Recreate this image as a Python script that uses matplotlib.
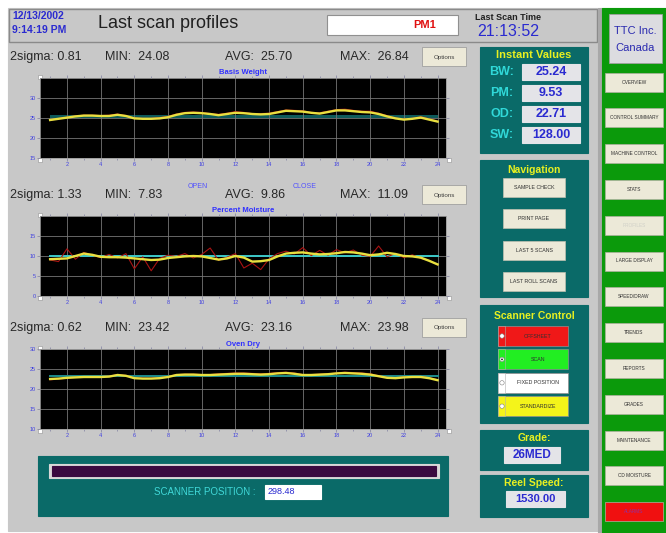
import matplotlib
matplotlib.use('Agg')
import matplotlib.pyplot as plt
from matplotlib.patches import Rectangle, Circle
import numpy as np

plt.rcParams['font.family'] = ['Liberation Sans', 'DejaVu Sans']

W, H = 666, 533

#### data
scan_pos = np.arange(1, 24.5, 0.5)

bw_yellow = [24.5, 24.8, 25.1, 25.4, 25.6, 25.6, 25.5, 25.5, 25.8, 25.5,
             24.9, 24.8, 24.8, 24.9, 25.2, 25.8, 26.2, 26.3, 26.2, 26.0,
             25.7, 26.0, 26.3, 26.2, 26.0, 25.9, 26.0, 26.4, 26.8, 26.7,
             26.6, 26.3, 26.1, 26.5, 26.9, 26.9, 26.7, 26.5, 26.4, 26.0,
             25.4, 24.9, 24.6, 24.8, 25.1, 24.6, 24.1]
bw_red = [24.4, 24.9, 25.2, 25.5, 25.7, 25.7, 25.6, 25.7, 26.0, 25.6,
          25.0, 24.9, 24.9, 25.1, 25.4, 26.0, 26.4, 26.5, 26.4, 26.1,
          25.9, 26.2, 26.6, 26.4, 26.1, 26.1, 26.2, 26.6, 27.0, 26.9,
          26.8, 26.4, 26.3, 26.7, 27.1, 27.2, 26.9, 26.7, 26.7, 26.2,
          25.6, 25.0, 24.7, 24.9, 25.3, 24.8, 24.2]

pm_yellow = [9.2, 9.3, 9.4, 10.0, 10.6, 10.3, 9.8, 9.7, 9.7, 9.6,
             9.4, 9.2, 9.0, 9.1, 9.5, 9.7, 9.9, 10.0, 9.9, 9.5,
             9.1, 9.4, 10.0, 9.6, 8.6, 8.7, 9.0, 9.9, 10.6, 10.8,
             10.9, 10.6, 10.4, 10.5, 10.7, 11.0, 10.9, 10.6, 10.2, 10.4,
             10.8, 10.5, 10.0, 9.9, 9.6, 8.8, 7.9]
pm_red = [9.0, 8.6, 11.8, 9.2, 10.9, 10.2, 9.6, 10.4, 9.5, 10.6,
          6.8, 9.8, 6.3, 9.4, 10.2, 9.9, 10.6, 9.5, 10.4, 12.0,
          8.9, 9.7, 10.6, 7.0, 8.2, 6.6, 9.3, 10.6, 11.2, 10.5,
          12.1, 10.1, 11.4, 10.2, 11.6, 10.8, 11.5, 10.2, 9.9, 12.5,
          9.8, 10.6, 9.6, 10.3, 9.4, 8.9, 7.8]

od_yellow = [22.5, 22.6, 22.8, 22.9, 23.0, 23.0, 23.0, 23.1, 23.5, 23.3,
             22.7, 22.6, 22.6, 22.7, 23.0, 23.5, 23.6, 23.6, 23.5, 23.5,
             23.6, 23.7, 23.8, 23.8, 23.7, 23.6, 23.7, 23.9, 24.0, 23.8,
             23.5, 23.5, 23.6, 23.7, 23.9, 24.0, 23.9, 23.8, 23.6, 23.2,
             22.8, 22.7, 22.9, 23.0, 23.0, 22.7, 22.2]
od_red = [22.3, 22.5, 22.7, 22.9, 23.0, 23.1, 23.1, 23.2, 23.6, 23.4,
          22.8, 22.7, 22.7, 22.8, 23.1, 23.6, 23.7, 23.7, 23.6, 23.6,
          23.8, 23.9, 24.0, 24.0, 23.9, 23.8, 23.9, 24.1, 24.2, 24.0,
          23.6, 23.6, 23.7, 23.8, 24.0, 24.2, 24.1, 24.0, 23.8, 23.3,
          22.9, 22.8, 23.0, 23.1, 23.1, 22.8, 22.3]

bw_stats = ['2sigma: 0.81', 'MIN:  24.08', 'AVG:  25.70', 'MAX:  26.84']
pm_stats = ['2sigma: 1.33', 'MIN:  7.83', 'AVG:  9.86', 'MAX:  11.09']
od_stats = ['2sigma: 0.62', 'MIN:  23.42', 'AVG:  23.16', 'MAX:  23.98']

instant_labels = ['BW:', 'PM:', 'OD:', 'SW:']
instant_values = ['25.24', '9.53', '22.71', '128.00']

nav_buttons = ['SAMPLE CHECK', 'PRINT PAGE', 'LAST 5 SCANS', 'LAST ROLL SCANS']
scanner_buttons = ['OFFSHEET', 'SCAN', 'FIXED POSITION', 'STANDARDIZE']
scanner_colors = ['#f01818', '#22ee22', '#ffffff', '#f4f41a']

side_buttons = ['OVERVIEW', 'CONTROL SUMMARY', 'MACHINE CONTROL', 'STATS',
                'PROFILES', 'LARGE DISPLAY', 'SPEED/DRAW', 'TRENDS',
                'REPORTS', 'GRADES', 'MAINTENANCE', 'CD MOISTURE', 'ALARMS']

GRAY = '#c8c8c8'
TEAL = '#0a6a68'
BTN = '#ece9d8'
BLUE = '#2a2ad0'

fig = plt.figure(figsize=(W / 100, H / 100), dpi=100)
fig.patch.set_facecolor('white')
bg = fig.add_axes([0, 0, 1, 1])
bg.set_xlim(0, W)
bg.set_ylim(H, 0)
bg.axis('off')


def box(x, y, w, h, fc, ec=None, lw=0.8, z=1):
    bg.add_patch(Rectangle((x, y), w, h, fc=fc, ec=ec if ec else fc, lw=lw, zorder=z))


def txt(x, y, s, size=6, color='#202020', ha='left', weight='normal'):
    bg.text(x, y, s, fontsize=size, color=color, ha=ha, va='center',
            fontweight=weight, zorder=5)


#### background panels
box(8, 8, 590, 523, GRAY)
box(9, 9, 588, 33, GRAY, ec='#8a8a8a', lw=1.0)
box(598, 8, 4, 525, '#a8a8a8')
box(602, 8, 64, 525, '#0b9a0b')

#### header
txt(12, 16, '12/13/2002', 7.5, BLUE, weight='bold')
txt(12, 30, '9:14:19 PM', 7.5, BLUE, weight='bold')
txt(98, 23, 'Last scan profiles', 13)
box(327, 15, 131, 20, 'white', ec='#909090')
txt(425, 25, 'PM1', 8, '#e01010', ha='center', weight='bold')
txt(508, 17, 'Last Scan Time', 6.5, '#202020', ha='center', weight='bold')
txt(508, 32, '21:13:52', 11.5, BLUE, ha='center')


#### profile charts
def profile(top, title, stats, yellow, red, ylim, yticks, ref):
    xs = [10, 105, 225, 340]
    for x, s in zip(xs, stats):
        txt(x, top, s, 9, '#282828')
    box(422, top - 10, 44, 19, BTN, ec='#a0a0a0', lw=0.6)
    txt(444, top, 'Options', 4.5, '#404040', ha='center')
    txt(243, top + 16, title, 5.5, '#3030ff', ha='center', weight='bold')
    ax_top = top + 21
    ax = fig.add_axes([40 / W, 1 - (ax_top + 80) / H, 406 / W, 80 / H])
    ax.set_facecolor('black')
    if ref[0] == 'band':
        ax.fill_between([1, 24], ref[1], ref[2], color='#0e5a5a', lw=0)
    else:
        ax.plot([1, 24], [ref[1], ref[1]], color=ref[2], lw=1.4)
    ax.plot(scan_pos, red, color='#a81212', lw=0.8)
    ax.plot(scan_pos, yellow, color='#e8e040', lw=1.7)
    ax.set_xlim(0.4, 24.5)
    ax.set_ylim(*ylim)
    ax.set_xticks(range(2, 25, 2))
    ax.set_xticks(range(1, 25, 2), minor=True)
    ax.set_yticks(yticks)
    ax.grid(True, color='#767676', lw=0.6)
    ax.tick_params(labelsize=4, colors='#8080a0', labelcolor='#4040e0',
                   length=2, width=0.5, pad=1)
    ax.tick_params(which='minor', length=1.5, width=0.5, colors='#8080a0')
    ax.tick_params(top=True, right=True, which='both')
    for sp in ax.spines.values():
        sp.set_color('#9a9a9a')
        sp.set_linewidth(0.6)
    for cx, cy in [(38, ax_top - 3), (38, ax_top + 80), (447, ax_top + 80)]:
        box(cx, cy, 4, 4, 'white', ec='#909090', lw=0.4, z=6)
    return ax


profile(57, 'Basis Weight', bw_stats, bw_yellow, bw_red, (15, 35),
        [15, 20, 25, 30], ('band', 25.0, 25.8))
profile(195, 'Percent Moisture', pm_stats, pm_yellow, pm_red, (0, 20),
        [0, 5, 10, 15], ('line', 9.95, '#3cc8c8'))
profile(328, 'Oven Dry', od_stats, od_yellow, od_red, (10, 30),
        [10, 15, 20, 25, 30], ('line', 23.3, '#1e8c8c'))
txt(198, 187, 'OPEN', 5, '#5050ff', ha='center')
txt(305, 187, 'CLOSE', 5, '#5050ff', ha='center')

#### scanner position
box(38, 456, 410, 60, TEAL)
box(49, 464, 390, 14, '#d8d8d8')
box(52, 466, 384, 10, '#3a0a40')
txt(205, 492, 'SCANNER POSITION :', 7, '#40d8d8', ha='center')
box(265, 485, 56, 14, 'white')
txt(268, 492, '298.48', 6.5, BLUE)

#### instant values
box(480, 47, 108, 106, TEAL)
txt(534, 55, 'Instant Values', 8, '#e8f020', ha='center', weight='bold')
for i, (lab, val) in enumerate(zip(instant_labels, instant_values)):
    y = 72 + i * 21
    txt(502, y, lab, 9, '#30d8d8', ha='center', weight='bold')
    box(522, y - 8, 58, 16, '#e4e4e8')
    txt(551, y, val, 9, BLUE, ha='center', weight='bold')

#### navigation
box(480, 160, 108, 137, TEAL)
txt(534, 170, 'Navigation', 7.5, '#e8f020', ha='center', weight='bold')
for i, name in enumerate(nav_buttons):
    y = 178 + i * 31.3
    box(503, y, 62, 19, BTN, ec='#c0c0b0', lw=0.5)
    txt(534, y + 9.5, name, 3.8, '#303030', ha='center')

#### scanner control
box(480, 305, 108, 118, TEAL)
txt(534, 316, 'Scanner Control', 7.5, '#e8f020', ha='center', weight='bold')
for i, (name, col) in enumerate(zip(scanner_buttons, scanner_colors)):
    y = 326 + i * 23.4
    box(498, y, 70, 20, col, ec='#909090', lw=0.5)
    box(498, y, 7, 20, col, ec='#b0b0b0', lw=0.4)
    bg.add_patch(Circle((502, y + 10), 2.2, fc='white', ec='#808080', lw=0.4, zorder=4))
    txt(538, y + 10, name, 3.8, '#303030', ha='center')
bg.add_patch(Circle((502, 359.4), 0.9, fc='#202020', zorder=5))

#### grade / reel speed
box(480, 430, 108, 40, TEAL)
txt(534, 438, 'Grade:', 7.5, '#e8f020', ha='center', weight='bold')
box(504, 447, 56, 16, '#e4e4e8')
txt(532, 455, '26MED', 8.5, BLUE, ha='center', weight='bold')
box(480, 475, 108, 42, TEAL)
txt(534, 483, 'Reel Speed:', 7.5, '#e8f020', ha='center', weight='bold')
box(506, 491, 59, 16, '#e4e4e8')
txt(535, 499, '1530.00', 8, BLUE, ha='center', weight='bold')

#### side menu
box(609, 14, 53, 49, '#dcdce0', ec='#a0a0a0', lw=0.6)
txt(635, 31, 'TTC Inc.', 8, '#2a2ab0', ha='center')
txt(635, 48, 'Canada', 8, '#2a2ab0', ha='center')
for i, name in enumerate(side_buttons):
    y = 72.5 + i * 35.8
    fc = BTN
    col = '#303030'
    if name == 'PROFILES':
        col = '#d0d0c8'
    if name == 'ALARMS':
        fc = '#f01010'
        col = '#9030a0'
    box(605, y, 58, 19, fc, ec='#b0b0a0', lw=0.5)
    txt(634, y + 9.5, name, 3.4, col, ha='center')

fig.savefig('out.png', dpi=100, facecolor=fig.get_facecolor())
